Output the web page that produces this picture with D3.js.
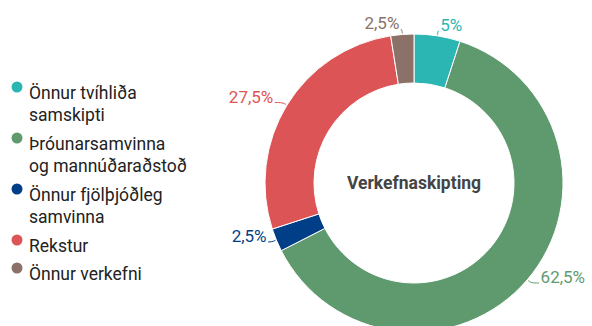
<!DOCTYPE html>
<html>
<head>
<meta charset="utf-8">
<script src="https://cdn.jsdelivr.net/npm/d3@7"></script>
<style>
  html, body { margin: 0; padding: 0; background: #fff; }
  svg { display: block; font-family: Roboto, "Noto Sans", sans-serif; }
</style>
</head>
<body>
<svg id="chart" width="592" height="326"></svg>
<script>
// Task distribution (Verkefnaskipting), share of total in percent
const categories = [
  ["Önnur tvíhliða", "samskipti"],
  ["Þróunarsamvinna", "og mannúðaraðstoð"],
  ["Önnur fjölþjóðleg", "samvinna"],
  ["Rekstur"],
  ["Önnur verkefni"]
];
const values = [5, 62.5, 2.5, 27.5, 2.5];
const valueLabels = ["5%", "62,5%", "2,5%", "27,5%", "2,5%"];
const colors = ["#2bb5b3", "#5f9a6e", "#003f88", "#dd5457", "#8b7168"];
const title = "Verkefnaskipting";

const svg = d3.select("#chart");
const cx = 414, cy = 183, rOuter = 149, rInner = 100;

const pie = d3.pie().sort(null).value(d => d.value);
const arcs = pie(values.map((v, i) => ({ value: v, i })));
const arc = d3.arc().innerRadius(rInner).outerRadius(rOuter);

const g = svg.append("g").attr("transform", `translate(${cx},${cy})`);

g.selectAll("path.slice")
  .data(arcs)
  .join("path")
  .attr("class", "slice")
  .attr("d", arc)
  .attr("fill", d => colors[d.data.i])
  .attr("stroke", "#fff")
  .attr("stroke-width", 1);

// leader lines and value labels
const pt = (a, r) => [r * Math.sin(a), -r * Math.cos(a)];
arcs.forEach(d => {
  const a = (d.startAngle + d.endAngle) / 2;
  const s = Math.sin(a), c = Math.cos(a);
  const side = s >= 0 ? 1 : -1;
  const p0 = pt(a, rOuter + 1);
  const p1 = pt(a, rOuter + 5);
  const tail = 4 * Math.abs(s) + 10 * Math.max(0, -s * c);
  const p2 = [p1[0] + side * tail, p1[1]];
  const col = colors[d.data.i];
  g.append("path")
    .attr("d", d3.line().curve(d3.curveBasis)([p0, p1, p2]))
    .attr("fill", "none")
    .attr("stroke", col)
    .attr("stroke-width", 1);
  g.append("text")
    .attr("x", p2[0] + side * 1.5)
    .attr("y", p2[1])
    .attr("text-anchor", side > 0 ? "start" : "end")
    .attr("fill", col)
    .attr("font-size", 17)
    .text(valueLabels[d.data.i]);
});

g.append("text")
  .attr("x", 0)
  .attr("y", 0)
  .attr("dy", "0.35em")
  .attr("text-anchor", "middle")
  .attr("font-size", 17.5)
  .attr("font-weight", "bold")
  .attr("fill", "#444")
  .text(title);

// legend
const legend = svg.append("g").attr("transform", "translate(17,0)");
const lineH = 22;
let y = 87;
categories.forEach((lines, i) => {
  const item = legend.append("g").attr("transform", `translate(0,${y})`);
  item.append("circle").attr("r", 5.5).attr("fill", colors[i]);
  item.append("text")
    .attr("x", 12)
    .attr("y", 12)
    .attr("font-size", 17.5)
    .attr("fill", "#222")
    .selectAll("tspan")
    .data(lines)
    .join("tspan")
    .attr("x", 12)
    .attr("dy", (l, k) => k === 0 ? 0 : lineH)
    .text(l => l);
  y += lines.length === 2 ? 51 : 28;
});
</script>
</body>
</html>
